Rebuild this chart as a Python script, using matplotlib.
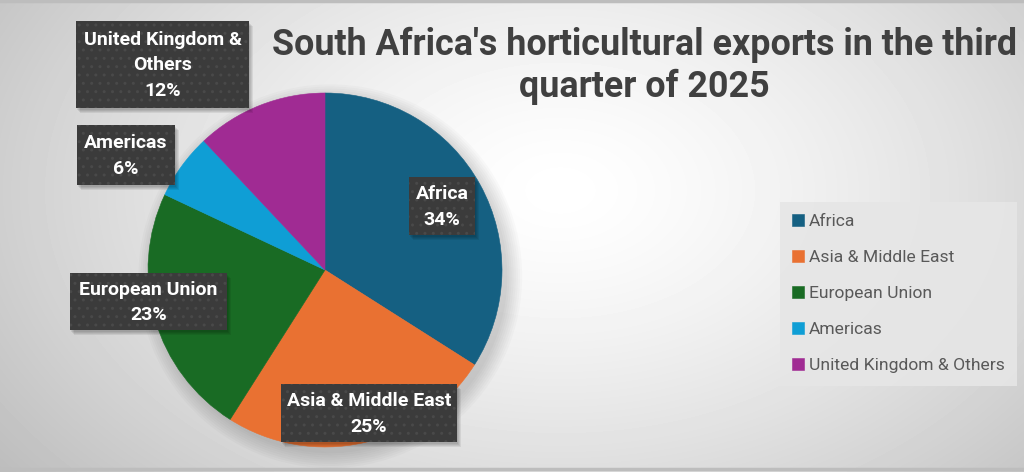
"""
Pie chart of South Africa's horticultural exports by destination, Q3 2025
"""

import matplotlib.pyplot as plt
import numpy as np
from matplotlib.patches import Circle, Rectangle

regions = ["Africa", "Asia & Middle East", "European Union", "Americas", "United Kingdom & Others"]
shares = [34, 25, 23, 6, 12]
slice_colors = ["#156082", "#E97132", "#196B24", "#0F9ED5", "#A02B93"]
label_names = ["Africa", "Asia & Middle East", "European Union", "Americas", "United Kingdom &\nOthers"]
title = "South Africa's horticultural exports in the third\nquarter of 2025"

W, H = 1024, 472
FONT = ["Roboto", "DejaVu Sans"]

# label boxes in pixel coords: left, top, right, bottom
label_boxes = {
    "Africa": (409, 177, 475, 235),
    "Asia & Middle East": (281, 384, 457, 442),
    "European Union": (70, 273, 227, 330),
    "Americas": (77, 125, 175, 185),
    "United Kingdom & Others": (76, 21, 249, 108),
}

fig = plt.figure(figsize=(W / 100, H / 100), dpi=100)

# background gradient, light in the middle, grey towards the edges
bg = fig.add_axes([0, 0, 1, 1])
yy, xx = np.mgrid[0:H, 0:W]
d = np.sqrt(((xx - 560) / 640) ** 2 + ((yy - 190) / 420) ** 2)
grad = 255 - 58 * np.clip(d, 0, 1.15) ** 1.4
bg.imshow(grad, cmap="gray", vmin=0, vmax=255, extent=[0, W, H, 0], aspect="auto", interpolation="bilinear")
bg.plot([0, W], [1, 1], color="#bdbdbd", lw=2.5)
bg.plot([0, W], [H - 3, H - 3], color="#bdbdbd", lw=2.5)
bg.set_xlim(0, W)
bg.set_ylim(H, 0)
bg.axis("off")

# pie
ax = fig.add_axes([148 / W, (H - 447) / H, 354 / W, 354 / H])
for i in range(8):
    ax.add_patch(Circle((0.03, -0.035), 1.0 + 0.012 * i, color="black", alpha=0.018, lw=0, clip_on=False, zorder=0))
wedges, _ = ax.pie(shares, colors=slice_colors, startangle=90, counterclock=False, radius=1,
                   wedgeprops=dict(linewidth=0.4, edgecolor="none"))
for w, c in zip(wedges, slice_colors):
    w.set_edgecolor(c)
ax.set_xlim(-1, 1)
ax.set_ylim(-1, 1)

# overlay for data labels and title
ov = fig.add_axes([0, 0, 1, 1])
ov.set_xlim(0, W)
ov.set_ylim(H, 0)
ov.axis("off")
ov.patch.set_visible(False)

for region, name, share in zip(regions, label_names, shares):
    l, t, r, b = label_boxes[region]
    for k in range(4):
        ov.add_patch(Rectangle((l + 1 + k, t + 2 + k), r - l, b - t, facecolor="black", alpha=0.07, lw=0))
    ov.add_patch(Rectangle((l, t), r - l, b - t, facecolor="#3b3b3b", edgecolor="#494949", hatch="..", lw=0))
    ov.text((l + r) / 2, (t + b) / 2 + 1, f"{name}\n{share}%", ha="center", va="center", color="white",
            fontsize=14, fontweight="bold", family=FONT, linespacing=1.55)

ov.text(644, 66, title, ha="center", va="center", color="#404040", fontsize=25.8, fontweight="bold",
        family=FONT, linespacing=1.2)

leg = fig.legend(wedges, regions, loc="upper left", bbox_to_anchor=(780 / W, 1 - 202 / H), frameon=True,
                 facecolor="#e6e6e6", edgecolor="none", fancybox=False, framealpha=0.9, borderaxespad=0,
                 handlelength=0.65, handleheight=0.65, handletextpad=0.3, labelspacing=1.2,
                 borderpad=0.7, prop=dict(family=FONT, size=12.6))
for txt in leg.get_texts():
    txt.set_color("#595959")

plt.savefig("out.png", dpi=100)
